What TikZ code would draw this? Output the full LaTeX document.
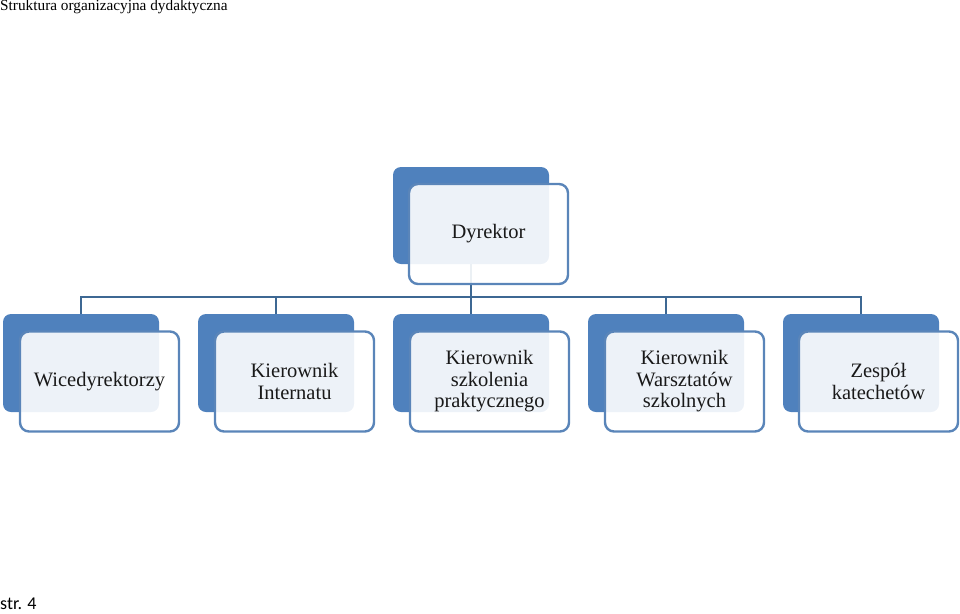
\documentclass[tikz,border=0pt]{standalone}
\usepackage{fontspec}
\setmainfont{Liberation Serif}
\newfontfamily\footfont{Carlito}
\definecolor{backblue}{HTML}{4F81BD}
\definecolor{edgeblue}{HTML}{5A85B9}
\definecolor{linkblue}{HTML}{3D6893}
\tikzset{
  backbox/.style={rectangle, rounded corners=8pt, fill=backblue, minimum width=156pt, minimum height=98pt, inner sep=0pt},
  frontbox/.style={rectangle, rounded corners=9pt, draw=edgeblue, line width=2.4pt, fill=white, fill opacity=0.9, text opacity=1, minimum width=159pt, minimum height=100pt, align=center, inner sep=0pt, font=\fontsize{20.5}{21.5}\selectfont, text=black!90},
  link/.style={draw=linkblue, line width=2.6pt}
}
\begin{document}
\begin{tikzpicture}[x=1pt,y=-1pt]
\useasboundingbox (0,0) rectangle (960,613);
\node[anchor=west, font=\fontsize{15.3}{17}\selectfont, inner sep=0pt] (hdr) at (0,7) {Struktura organizacyjna dydaktyczna};
\node[anchor=west, font=\footfont\fontsize{18}{20}\selectfont, inner sep=0pt] (ftr) at (0,604) {str. 4};
% back boxes
\node[backbox, minimum height=97pt] (top) at (471,215.5) {};
\foreach \i in {1,...,5} {
  \node[backbox] (b\i) at ({81+195*(\i-1)},363) {};
}
% connectors
\coordinate (bus) at (471,297);
\draw[link] (b1.north) |- (bus) -| (b5.north);
\draw[link] (top.south) -- (b3.north);
\draw[link] (b2.north) -- (b2.north |- bus);
\draw[link] (b4.north) -- (b4.north |- bus);
% front boxes
\node[frontbox] (ftop) at (488.5,234) {Dyrektor};
\node[frontbox] (f1) at (99.5,381.5) {Wicedyrektorzy};
\node[frontbox] (f2) at (294.5,381.5) {Kierownik\\Internatu};
\node[frontbox] (f3) at (489.5,381.5) {Kierownik\\szkolenia\\praktycznego};
\node[frontbox] (f4) at (684.5,381.5) {Kierownik\\Warsztatów\\szkolnych};
\node[frontbox] (f5) at (878.5,381.5) {Zespół\\katechetów};
\end{tikzpicture}
\end{document}
